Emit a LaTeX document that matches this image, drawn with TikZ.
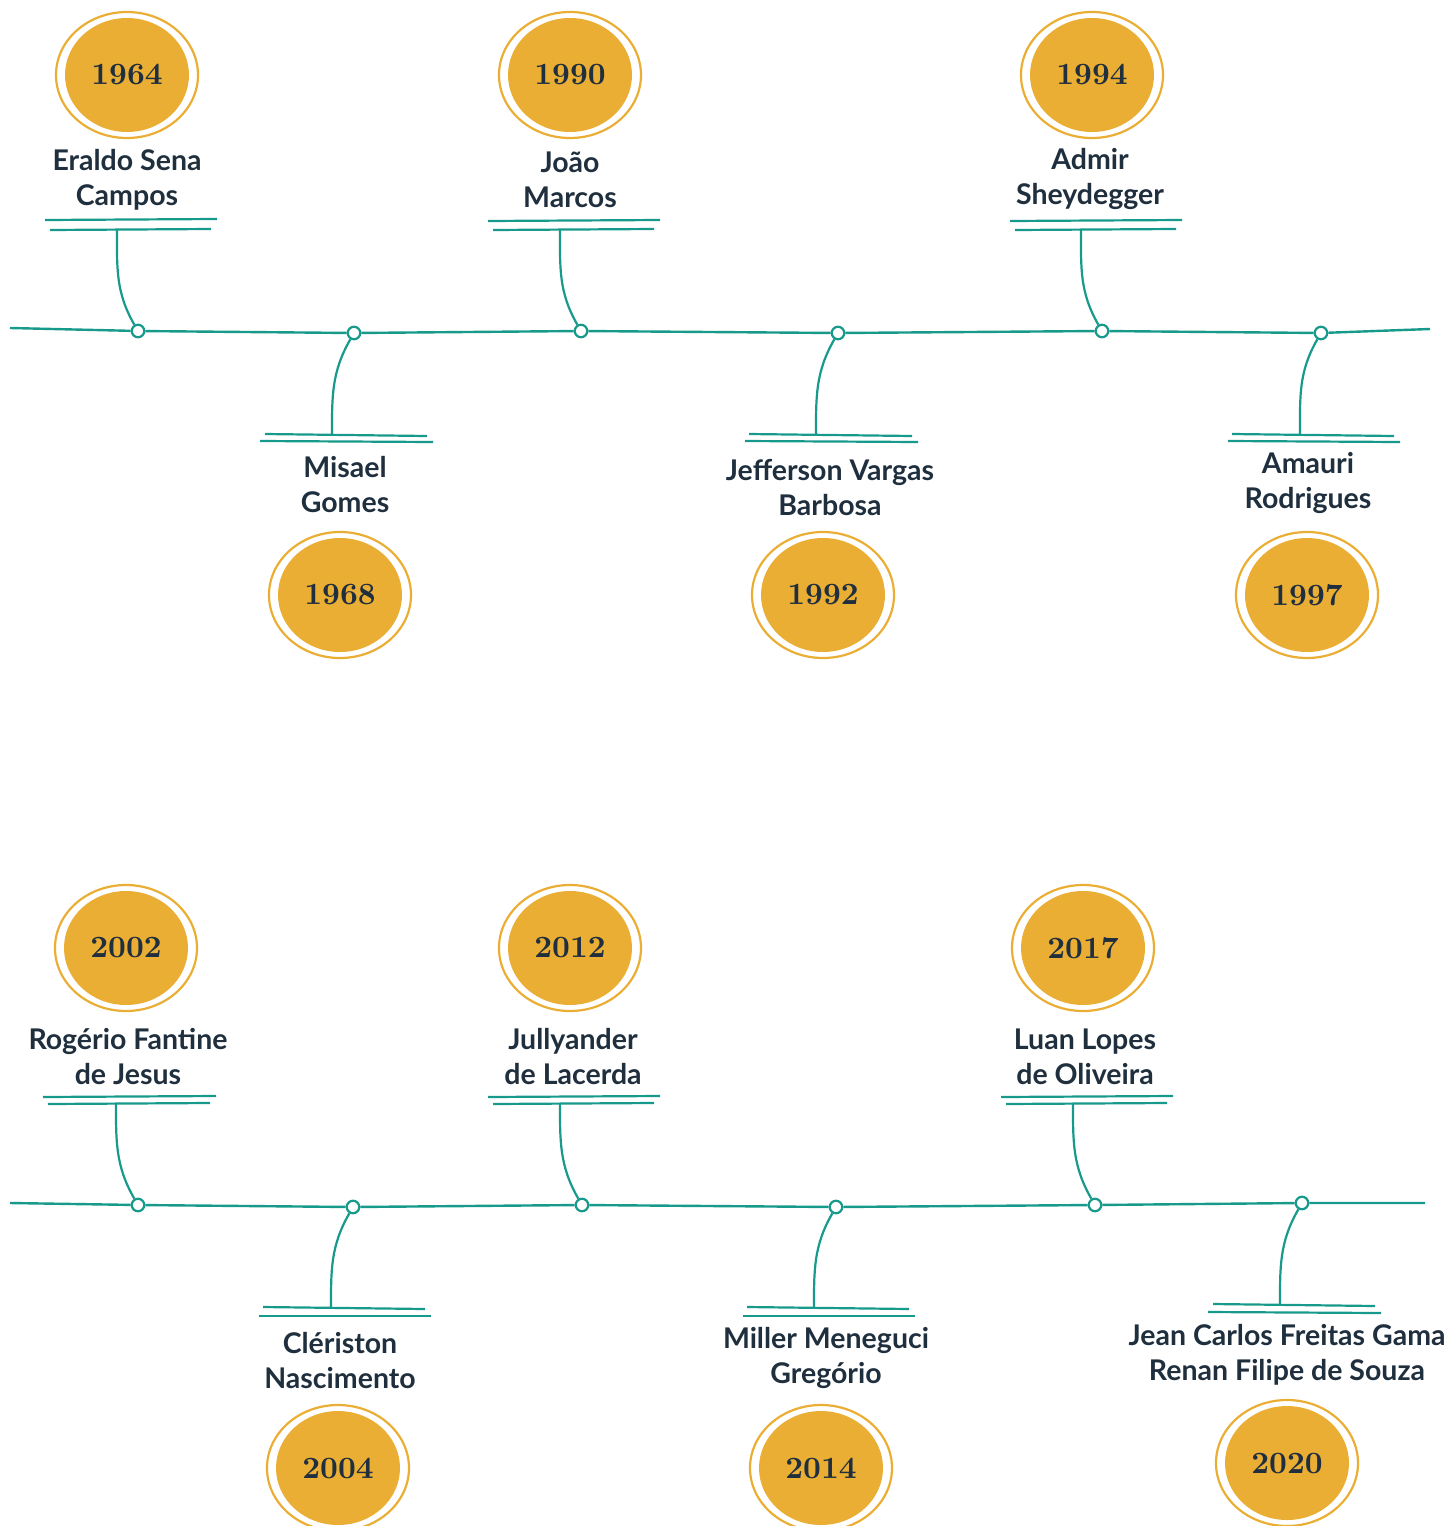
\documentclass[tikz,border=0pt]{standalone}
\usepackage{fontspec}
\setmainfont{Lato}
\newfontfamily\yearfont{lmroman10-bold.otf}
\usepackage{tikz}
\usetikzlibrary{shapes.geometric}

\definecolor{tealline}{HTML}{17998B}
\definecolor{gold}{HTML}{EBAE34}
\definecolor{ink}{HTML}{1F2F3E}

\begin{document}
\begin{tikzpicture}[x=1pt,y=-1pt]
    \tikzset{
    yr/.style={ellipse,minimum width=124pt,minimum height=114pt,fill=gold,text=ink,
      font=\yearfont\fontsize{31}{32}\selectfont},
    ring/.style={draw=gold,line width=2.2pt},
    who/.style={align=center,text=ink,font=\bfseries\fontsize{28.5}{35}\selectfont},
    dot/.style={circle,draw=tealline,fill=white,line width=2.2pt,minimum size=12.5pt,inner sep=0pt},
    tl/.style={draw=tealline,line width=2.4pt},
    link/.style={draw=tealline,line width=2.2pt},
    }
    \useasboundingbox (0,0) rectangle (1451,1526);

    % ---- first timeline ----
    \coordinate (a0) at (10,328);
    \coordinate (a1) at (1430,329);
    \node[dot] (d64) at (138,331) {};
    \node[dot] (d68) at (354,333) {};
    \node[dot] (d90) at (581,331) {};
    \node[dot] (d92) at (838,333) {};
    \node[dot] (d94) at (1102,331) {};
    \node[dot] (d97) at (1321,333) {};
    \draw[tl] (a0) -- (d64) -- (d68) -- (d90) -- (d92) -- (d94) -- (d97) -- (a1);

    % 1964
    \node[yr] (y64) at (127,75) {1964};
    \draw[ring] (y64.center) ellipse (71 and 63);
    \node[who] (n64) at (127,180) {Eraldo Sena\\Campos};
    \draw[link] (45,220) -- (217,219);
    \draw[link] (50,230) -- (211,229);
    \coordinate (c64) at (117,230);
    \draw[link] (c64) to[out=-90,in=120] (d64);

    % 1968
    \node[yr] (y68) at (340,595) {1968};
    \draw[ring] (y68.center) ellipse (71 and 63);
    \node[who] (n68) at (345,485) {Misael\\Gomes};
    \draw[link] (265,434) -- (427,436);
    \draw[link] (260,441) -- (433,442);
    \coordinate (c68) at (332,434);
    \draw[link] (d68) to[out=-120,in=90] (c68);

    % 1990
    \node[yr] (y90) at (570,75) {1990};
    \draw[ring] (y90.center) ellipse (71 and 63);
    \node[who] (n90) at (570,180) {João\\Marcos};
    \draw[link] (488,221) -- (660,220);
    \draw[link] (493,230) -- (654,229);
    \coordinate (c90) at (560,230);
    \draw[link] (c90) to[out=-90,in=120] (d90);

    % 1992
    \node[yr] (y92) at (823,595) {1992};
    \draw[ring] (y92.center) ellipse (71 and 63);
    \node[who] (n92) at (830,488) {Jefferson Vargas\\Barbosa};
    \draw[link] (749,434) -- (912,436);
    \draw[link] (745,441) -- (918,442);
    \coordinate (c92) at (816,434);
    \draw[link] (d92) to[out=-120,in=90] (c92);

    % 1994
    \node[yr] (y94) at (1092,75) {1994};
    \draw[ring] (y94.center) ellipse (71 and 63);
    \node[who] (n94) at (1090,179) {Admir\\Sheydegger};
    \draw[link] (1010,221) -- (1182,220);
    \draw[link] (1015,230) -- (1176,229);
    \coordinate (c94) at (1081,230);
    \draw[link] (c94) to[out=-90,in=120] (d94);

    % 1997
    \node[yr] (y97) at (1307,595) {1997};
    \draw[ring] (y97.center) ellipse (71 and 63);
    \node[who] (n97) at (1308,483) {Amauri\\Rodrigues};
    \draw[link] (1232,434) -- (1394,436);
    \draw[link] (1228,441) -- (1400,442);
    \coordinate (c97) at (1300,434);
    \draw[link] (d97) to[out=-120,in=90] (c97);

    % ---- second timeline ----
    \coordinate (b0) at (10,1203);
    \coordinate (b1) at (1425,1203);
    \node[dot] (d02) at (138,1205) {};
    \node[dot] (d04) at (353,1207) {};
    \node[dot] (d12) at (582,1205) {};
    \node[dot] (d14) at (836,1207) {};
    \node[dot] (d17) at (1095,1205) {};
    \node[dot] (d20) at (1302,1203) {};
    \draw[tl] (b0) -- (d02) -- (d04) -- (d12) -- (d14) -- (d17) -- (d20) -- (b1);

    % 2002
    \node[yr] (y02) at (126,948) {2002};
    \draw[ring] (y02.center) ellipse (71 and 63);
    \node[who] (n02) at (128,1057) {Rogério Fantine\\de Jesus};
    \draw[link] (43,1097) -- (216,1096);
    \draw[link] (48,1104) -- (210,1103);
    \coordinate (c02) at (116,1104);
    \draw[link] (c02) to[out=-90,in=120] (d02);

    % 2004
    \node[yr] (y04) at (338,1468) {2004};
    \draw[ring] (y04.center) ellipse (71 and 63);
    \node[who] (n04) at (340,1361) {Clériston\\Nascimento};
    \draw[link] (263,1307) -- (425,1309);
    \draw[link] (259,1316) -- (431,1316);
    \coordinate (c04) at (331,1307);
    \draw[link] (d04) to[out=-120,in=90] (c04);

    % 2012
    \node[yr] (y12) at (570,948) {2012};
    \draw[ring] (y12.center) ellipse (71 and 63);
    \node[who] (n12) at (573,1057) {Jullyander\\de Lacerda};
    \draw[link] (488,1097) -- (660,1096);
    \draw[link] (493,1104) -- (654,1103);
    \coordinate (c12) at (560,1104);
    \draw[link] (c12) to[out=-90,in=120] (d12);

    % 2014
    \node[yr] (y14) at (821,1468) {2014};
    \draw[ring] (y14.center) ellipse (71 and 63);
    \node[who] (n14) at (826,1358) {Miller Meneguci\\Gregório};
    \draw[link] (747,1307) -- (909,1309);
    \draw[link] (743,1316) -- (915,1316);
    \coordinate (c14) at (814,1307);
    \draw[link] (d14) to[out=-120,in=90] (c14);

    % 2017
    \node[yr] (y17) at (1083,948) {2017};
    \draw[ring] (y17.center) ellipse (71 and 63);
    \node[who] (n17) at (1085,1057) {Luan Lopes\\de Oliveira};
    \draw[link] (1001,1097) -- (1173,1096);
    \draw[link] (1006,1104) -- (1167,1103);
    \coordinate (c17) at (1073,1104);
    \draw[link] (c17) to[out=-90,in=120] (d17);

    % 2020
    \node[yr] (y20) at (1287,1463) {2020};
    \draw[ring] (y20.center) ellipse (71 and 63);
    \node[who] (n20) at (1287,1355) {Jean Carlos Freitas Gama\\Renan Filipe de Souza};
    \draw[link] (1213,1304) -- (1375,1306);
    \draw[link] (1208,1312) -- (1381,1313);
    \coordinate (c20) at (1280,1304);
    \draw[link] (d20) to[out=-120,in=90] (c20);
\end{tikzpicture}
\end{document}
